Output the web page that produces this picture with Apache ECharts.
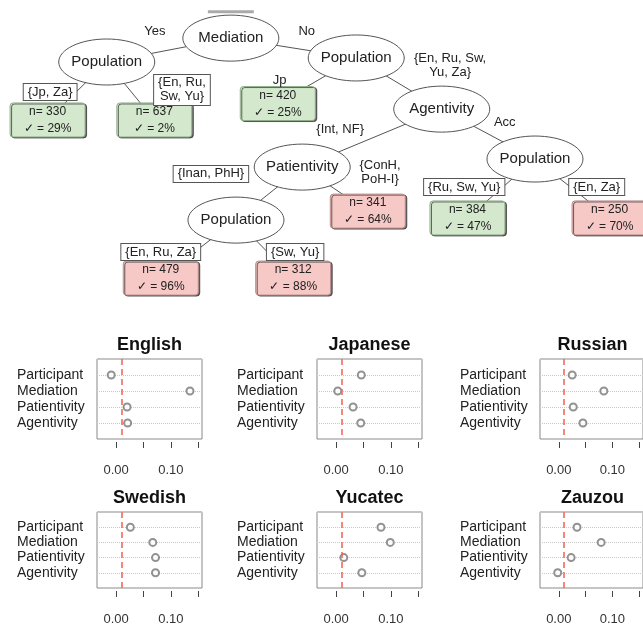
<!DOCTYPE html>
<html><head><meta charset="utf-8">
<script src="https://cdn.jsdelivr.net/npm/echarts@6/dist/echarts.min.js"></script>
<style>html,body{margin:0;padding:0;background:#fff}#c{width:643px;height:626px}</style>
</head><body><div id="c"></div>
<script>
// ---------- dot-plot data ----------
const languages = ['English', 'Japanese', 'Russian', 'Swedish', 'Yucatec', 'Zauzou'];
const predictors = ['Participant', 'Mediation', 'Patientivity', 'Agentivity'];
const englishVals  = [-0.009, 0.135, 0.020, 0.021];
const japaneseVals = [0.046, 0.003, 0.031, 0.045];
const russianVals  = [0.025, 0.084, 0.027, 0.045];
const swedishVals  = [0.026, 0.067, 0.072, 0.072];
const yucatecVals  = [0.082, 0.099, 0.014, 0.047];
const zauzouVals   = [0.034, 0.079, 0.023, -0.002];
const referenceValue = 0.011;
const xTickValues = [0, 0.05, 0.10, 0.15];
const xLabelValues = [0, 0.10];

// ---------- tree data ----------
const splitVariables = ['Mediation', 'Population', 'Population', 'Agentivity', 'Patientivity', 'Population', 'Population'];
const leafN   = [330, 637, 420, 341, 384, 250, 479, 312];
const leafPct = [29, 2, 25, 64, 47, 70, 96, 88];
const edgeFrom = [0, 0, 1, 1, 2, 2, 3, 3, 4, 4, 5, 5, 6, 6];
const edgeTo   = ['n1', 'n2', 'l0', 'l1', 'l2', 'n3', 'n4', 'n6', 'n5', 'l3', 'l6', 'l7', 'l4', 'l5'];
const edgeLabels = ['Yes', 'No', '{Jp, Za}', '{En, Ru,\nSw, Yu}', 'Jp', '{En, Ru, Sw,\nYu, Za}', '{Int, NF}', 'Acc',
  '{Inan, PhH}', '{ConH,\nPoH-I}', '{En, Ru, Za}', '{Sw, Yu}', '{Ru, Sw, Yu}', '{En, Za}'];

// ---------- tree layout (x in % of width, y in layout rows) ----------
const nodeLayout = [[35.9, 1.23], [16.6, 2.0], [55.4, 1.87], [68.7, 3.52], [47.0, 5.39], [36.7, 7.10], [83.2, 5.13]];
const leafLayout = [[7.4, 3.87], [24.0, 3.87], [43.2, 3.34], [57.2, 6.81], [72.7, 7.03], [94.8, 7.03], [25.0, 8.97], [45.6, 8.97]];
const edgeLabelLayout = [[24.1, 1.0], [47.7, 1.0], [7.8, 2.97], [28.3, 2.9], [43.5, 2.61], [70.0, 2.10], [52.9, 4.19],
  [78.5, 3.94], [32.8, 5.61], [59.1, 5.55], [25.0, 8.13], [45.9, 8.13], [72.2, 6.03], [92.8, 6.03]];
const edgeLabelBoxed = [0, 0, 1, 1, 0, 0, 0, 0, 1, 0, 1, 1, 1, 1];

const FONT = '"Liberation Sans", Arial, sans-serif';
const panelVals = [englishVals, japaneseVals, russianVals, swedishVals, yucatecVals, zauzouVals];
const panelBoxes = [[97, 359], [317, 359], [540, 359], [97, 512], [317, 512], [540, 512]];
const boxW = 105, boxH = 80;

const grids = [], xAxes = [], yAxes = [], series = [], titles = [];
panelVals.forEach((vals, k) => {
  const [l, t] = panelBoxes[k];
  grids.push({left: l, top: t, width: boxW, height: boxH, show: true, borderColor: '#888', borderWidth: 1, backgroundColor: 'transparent'});
  xAxes.push({
    gridIndex: k, type: 'value', min: -0.035, max: 0.157, position: 'bottom', offset: 3,
    axisLine: {show: false, onZero: false},
    axisTick: {show: true, length: 6, customValues: xTickValues, lineStyle: {color: '#444'}},
    axisLabel: {customValues: xLabelValues, formatter: v => v.toFixed(2), margin: 22, fontSize: 13, color: '#333', fontFamily: FONT},
    splitLine: {show: false}
  });
  yAxes.push({
    gridIndex: k, type: 'value', min: 0, max: 5, interval: 1, inverse: true,
    axisLine: {show: false, onZero: false}, axisTick: {show: false},
    axisLabel: {formatter: v => predictors[v - 1] || '', align: 'left', margin: 80, fontSize: 14, color: '#222', fontFamily: FONT},
    splitLine: {show: true, lineStyle: {type: 'dotted', color: '#c8c8c8'}}
  });
  series.push({
    type: 'scatter', xAxisIndex: k, yAxisIndex: k, symbol: 'emptyCircle', symbolSize: 7,
    itemStyle: {color: '#777', borderWidth: 1},
    data: vals.map((v, i) => [v, i + 1]), silent: true,
    markLine: {silent: true, symbol: ['none', 'none'], label: {show: false},
      lineStyle: {color: '#f06a5a', type: [6, 4], width: 1.6},
      data: [{xAxis: referenceValue}]}
  });
  titles.push({text: languages[k], left: l + boxW / 2, top: t - 23, textAlign: 'center', padding: 0,
    textStyle: {fontSize: 18, fontWeight: 'bold', color: '#111', fontFamily: FONT}});
});

// tree grid
const TG = 6;
grids.push({left: 0, top: 0, width: 643, height: 310, show: false});
xAxes.push({gridIndex: TG, type: 'value', min: 0, max: 100, show: false});
yAxes.push({gridIndex: TG, type: 'value', min: 0, max: 10, inverse: true, show: false});

function childPos(id) {
  const idx = +id.slice(1);
  return id[0] === 'n' ? nodeLayout[idx] : leafLayout[idx];
}

series.push({
  type: 'custom', xAxisIndex: TG, yAxisIndex: TG, silent: true, z: 1, clip: false,
  data: edgeFrom.map((p, i) => { const c = childPos(edgeTo[i]); return [nodeLayout[p][0], nodeLayout[p][1], c[0], c[1]]; }),
  encode: {x: [0, 2], y: [1, 3]},
  renderItem: (params, api) => {
    const a = api.coord([api.value(0), api.value(1)]);
    const b = api.coord([api.value(2), api.value(3)]);
    return {type: 'line', shape: {x1: a[0], y1: a[1], x2: b[0], y2: b[1]}, style: {stroke: '#555', lineWidth: 1}};
  }
});

series.push({
  type: 'custom', xAxisIndex: TG, yAxisIndex: TG, silent: true, z: 3, clip: false,
  data: nodeLayout.map(p => [p[0], p[1]]),
  encode: {x: 0, y: 1},
  renderItem: (params, api) => {
    const p = api.coord([api.value(0), api.value(1)]);
    const children = [
      {type: 'ellipse', shape: {cx: p[0], cy: p[1], rx: 48, ry: 23}, style: {fill: '#fff', stroke: '#555', lineWidth: 1}},
      {type: 'text', style: {text: splitVariables[params.dataIndex], x: p[0], y: p[1], align: 'center', verticalAlign: 'middle',
        font: '15px ' + FONT, fill: '#222'}}
    ];
    if (params.dataIndex === 0) {
      children.push({type: 'rect', shape: {x: p[0] - 23, y: p[1] - 28, width: 46, height: 3}, style: {fill: '#aaa'}});
    }
    return {type: 'group', children};
  }
});

series.push({
  type: 'custom', xAxisIndex: TG, yAxisIndex: TG, silent: true, z: 3, clip: false,
  data: leafLayout.map(p => [p[0], p[1]]),
  encode: {x: 0, y: 1},
  renderItem: (params, api) => {
    const p = api.coord([api.value(0), api.value(1)]);
    const i = params.dataIndex;
    const hi = leafPct[i] > 50;
    const fill = hi ? '#f6c8c6' : '#d3e8cd';
    const stroke = hi ? '#b98a88' : '#8fae88';
    return {type: 'group', children: [
      {type: 'rect', shape: {x: p[0] - 37.5, y: p[1] - 17, width: 75, height: 34, r: 3},
        style: {fill, stroke, lineWidth: 1, shadowColor: 'rgba(40,40,40,0.7)', shadowOffsetX: 1.5, shadowOffsetY: 1, shadowBlur: 0}},
      {type: 'text', style: {text: 'n= ' + leafN[i], x: p[0], y: p[1] - 8, align: 'center', verticalAlign: 'middle', font: '12px ' + FONT, fill: '#222'}},
      {type: 'text', style: {text: '\u2713 = ' + leafPct[i] + '%', x: p[0], y: p[1] + 9, align: 'center', verticalAlign: 'middle', font: '12px ' + FONT, fill: '#222'}}
    ]};
  }
});

series.push({
  type: 'custom', xAxisIndex: TG, yAxisIndex: TG, silent: true, z: 4, clip: false,
  data: edgeLabelLayout.map(p => [p[0], p[1]]),
  encode: {x: 0, y: 1},
  renderItem: (params, api) => {
    const p = api.coord([api.value(0), api.value(1)]);
    const i = params.dataIndex;
    const boxed = edgeLabelBoxed[i] === 1;
    const style = {text: edgeLabels[i], x: p[0], y: p[1], align: 'center', verticalAlign: 'middle',
      font: '13px ' + FONT, fill: '#222', lineHeight: 14};
    if (boxed) Object.assign(style, {backgroundColor: '#fff', borderColor: '#555', borderWidth: 1, padding: [1, 4]});
    return {type: 'text', style};
  }
});

const chart = echarts.init(document.getElementById('c'), null, {renderer: 'canvas'});
chart.setOption({
  animation: false, backgroundColor: '#fff',
  title: titles, grid: grids, xAxis: xAxes, yAxis: yAxes, series
});
</script></body></html>
